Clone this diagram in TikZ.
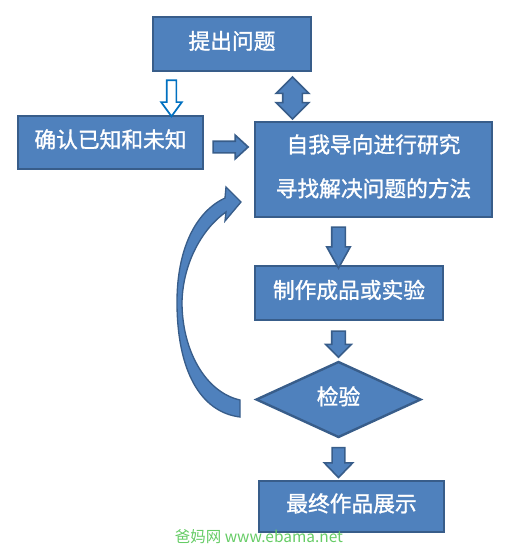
\documentclass[tikz,border=0pt]{standalone}
\usepackage{fontspec}
\setmainfont{Noto Sans CJK SC}
\newfontfamily\boxfont{Noto Sans CJK SC}[BoldFont=Noto Sans CJK SC, BoldFeatures={FakeBold=1.3}]
\usetikzlibrary{shapes.geometric,shapes.arrows,calc}
\definecolor{boxfill}{HTML}{4F81BD}
\definecolor{boxline}{HTML}{385D8A}
\definecolor{hollowblue}{HTML}{0070C0}
\definecolor{markgreen}{RGB}{102,204,102}

\begin{document}
\begin{tikzpicture}[
    x=0.75pt, y=-0.75pt,
    box/.style={draw=boxline, line width=1.8pt, fill=boxfill, text=white, align=center, inner sep=0pt, text depth=6pt, font=\boxfont\bfseries\fontsize{16.3}{33}\selectfont},
    decide/.style={box, diamond},
    blockarrow/.style={single arrow, draw=boxline, line width=1.2pt, fill=boxfill, inner sep=0pt, minimum width=0pt, single arrow head indent=0pt},
    hollowarrow/.style={single arrow, draw=hollowblue, line width=1.3pt, fill=white, inner sep=0pt, minimum width=0pt, single arrow head indent=0pt},
    twoway/.style={double arrow, draw=boxline, line width=1.2pt, fill=boxfill, inner sep=0pt, minimum width=0pt},
    watermark/.style={text=markgreen, font=\fontsize{11.6}{13}\selectfont}
]
\useasboundingbox (0,0) rectangle (518,547);

% boxes
\node[box, minimum width=118.5pt, minimum height=40.5pt] (ask) at (232,44) {提出问题};
\node[box, minimum width=138.75pt, minimum height=39.75pt] (known) at (110.5,142.5) {确认已知和未知};
\node[box, minimum width=177.75pt, minimum height=71.25pt] (research) at (373.5,169.5) {自我导向进行研究\\寻找解决问题的方法};
\node[box, minimum width=141pt, minimum height=40.5pt] (make) at (349,293) {制作成品或实验};
\node[decide, minimum width=123.75pt, minimum height=57pt] (check) at (338.5,399.5) {检验};
\node[box, minimum width=138.75pt, minimum height=38.25pt] (show) at (351.5,506.5) {最终作品展示};

% block arrows
\node[hollowarrow, shape border rotate=270, inner sep=3pt, single arrow head extend=4.1pt, single arrow tip angle=72, minimum height=27pt] (askdown) at (171.5,95) {};
\node[twoway, shape border rotate=90, inner sep=6.75pt, double arrow head extend=4.9pt, double arrow tip angle=90, minimum height=31.5pt] (askboth) at (292.5,98) {};
\node[blockarrow, inner sep=3.75pt, single arrow head extend=4.5pt, single arrow tip angle=85, minimum height=26.25pt] (knownright) at (227.5,147) {};
\node[blockarrow, shape border rotate=270, inner sep=4.5pt, single arrow head extend=3.75pt, single arrow tip angle=58, minimum height=30.75pt] (researchdown) at ($(check.north |- research.south)!0.5!(check.north |- make.north)$) {};
\node[blockarrow, shape border rotate=270, inner sep=4.5pt, single arrow head extend=4.5pt, single arrow tip angle=90, minimum height=19.5pt] (makedown) at ($(check.north |- make.south)!0.5!(check.north)$) {};
\node[blockarrow, shape border rotate=270, inner sep=4.2pt, single arrow head extend=5.8pt, single arrow tip angle=88, minimum height=22.5pt] (checkdown) at ($(check.south)!0.5!(check.south |- show.north)$) {};

% curved arrow back to research
\draw[draw=boxline, line width=1pt, fill=boxfill]
  (240,417) -- (240,400)
  .. controls (205,392) and (182,350) .. (182,302)
  .. controls (183,262) and (203,228) .. (226,212)
  -- (225,221) -- (241,202) -- (226,187) -- (225,198)
  .. controls (195,212) and (177,250) .. (177,302)
  .. controls (177,370) and (200,412) .. (240,417) -- cycle;

\node[watermark] (site) at (259,537) {爸妈网 www.ebama.net};
\end{tikzpicture}
\end{document}
